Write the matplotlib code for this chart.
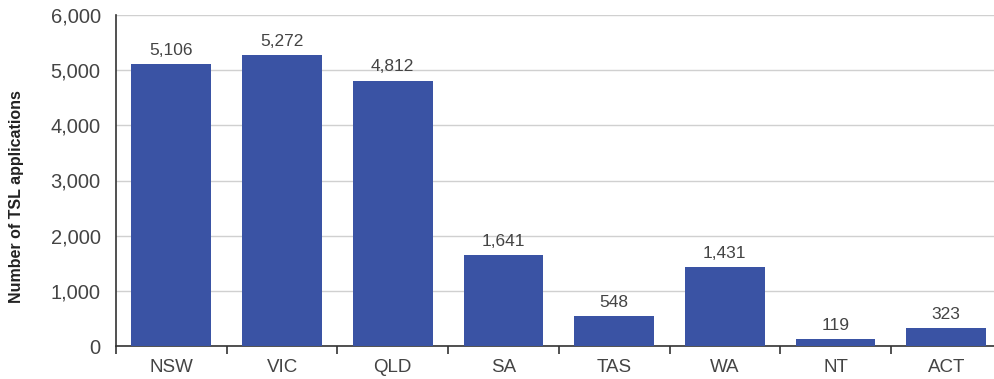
import numpy as np
import matplotlib.pyplot as plt

states = ["NSW", "VIC", "QLD", "SA", "TAS", "WA", "NT", "ACT"]
applications = [5106, 5272, 4812, 1641, 548, 1431, 119, 323]
y_ticks = [0, 1000, 2000, 3000, 4000, 5000, 6000]

plt.rcParams['font.family'] = ['Liberation Sans', 'DejaVu Sans']

fig = plt.figure(figsize=(9.95, 3.79), dpi=100)
# axis runs a bit past the right edge, as in the original
ax = fig.add_axes([116 / 995, (379 - 346) / 379, 885.6 / 995, 331 / 379])

x = np.arange(len(states))
bars = ax.bar(x, applications, width=0.72, color="#3a53a4", zorder=3)

for xi, v in zip(x, applications):
    ax.text(xi, v + 110, f"{v:,}", ha="center", va="bottom", fontsize=12.5, color="#444444")

ax.set_xlim(-0.5, len(states) - 0.5)
ax.set_ylim(0, 6000)
ax.set_yticks(y_ticks)
ax.set_yticklabels([f"{t:,}" for t in y_ticks])
ax.set_xticks(x)
ax.set_xticklabels(states)
ax.set_xticks(np.arange(len(states) + 1) - 0.5, minor=True)

ax.tick_params(axis="x", which="major", length=0, pad=9, labelsize=13.5, labelcolor="#444444")
ax.tick_params(axis="x", which="minor", length=6, width=1.2, color="#333333")
ax.tick_params(axis="y", length=0, pad=11, labelsize=14.5, labelcolor="#444444")

ax.grid(axis="y", color="#d0d0d0", linewidth=1, zorder=0)
ax.spines["top"].set_visible(False)
ax.spines["right"].set_visible(False)
ax.spines["left"].set_color("#333333")
ax.spines["bottom"].set_color("#333333")
ax.spines["left"].set_linewidth(1.2)
ax.spines["bottom"].set_linewidth(1.2)

ax.set_ylabel("Number of TSL applications", fontsize=11.5, fontweight="bold", color="#222222")
ax.yaxis.set_label_coords(-92 / 885.6, 0.45)

fig.savefig("out.png", dpi=100)
